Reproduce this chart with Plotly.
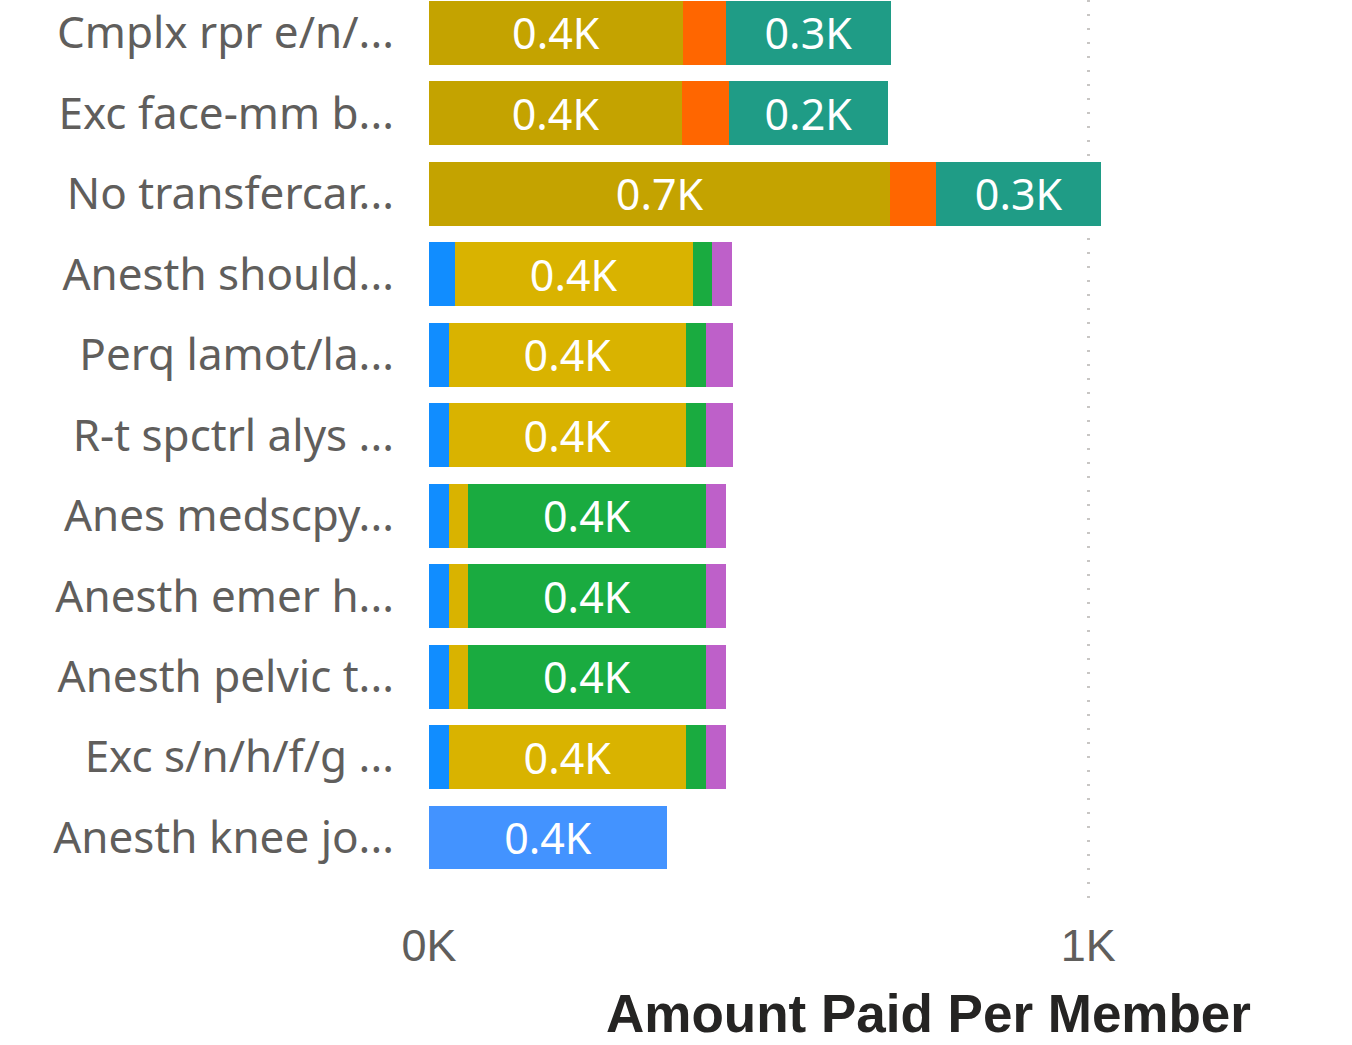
import plotly.graph_objects as go

categories = [
    "Cmplx rpr e/n/...", "Exc face-mm b...", "No transfercar...", "Anesth should...",
    "Perq lamot/la...", "R-t spctrl alys ...", "Anes medscpy...", "Anesth emer h...",
    "Anesth pelvic t...", "Exc s/n/h/f/g ...", "Anesth knee jo...",
]

# Amount Paid Per Member (dollars), by series
blue   = [0, 0, 0, 39, 30, 30, 30, 30, 30, 30, 361]
olive  = [385, 384, 700, 0, 0, 0, 0, 0, 0, 0, 0]
orange = [65, 71, 69, 0, 0, 0, 0, 0, 0, 0, 0]
teal   = [251, 241, 251, 0, 0, 0, 0, 0, 0, 0, 0]
yellow = [0, 0, 0, 361, 360, 360, 29, 29, 29, 360, 0]
green  = [0, 0, 0, 29, 30, 30, 361, 361, 361, 30, 0]
purple = [0, 0, 0, 30, 41, 41, 30, 30, 30, 30, 0]

tick_vals = [0, 1000]
tick_text = ["0K", "1K"]

LABEL_MIN = 200  # segments wide enough to carry a data label

def labels(vals):
    return [f"{v/1000:.1f}K" if v >= LABEL_MIN else "" for v in vals]

blue_colors = ["#118DFF"] * 10 + ["#4393FF"]

series = [
    ("Blue", blue, blue_colors),
    ("Olive", olive, "#C4A300"),
    ("Yellow", yellow, "#D9B300"),
    ("Green", green, "#1AAB40"),
    ("Orange", orange, "#FF6600"),
    ("Teal", teal, "#1F9C86"),
    ("Purple", purple, "#BE60C9"),
]

fig = go.Figure()
for name, vals, col in series:
    fig.add_trace(go.Bar(
        name=name, y=categories, x=vals, orientation="h",
        marker=dict(color=col, line=dict(width=0)),
        text=labels(vals), textposition="inside", insidetextanchor="middle",
        textangle=0, constraintext="none",
        textfont=dict(family="Segoe UI, Noto Sans, sans-serif", size=43, color="white"),
        hoverinfo="skip",
    ))

fig.update_layout(
    barmode="stack", bargap=0.205, showlegend=False,
    width=1352, height=1045,
    margin=dict(l=429, r=12, t=0, b=142),
    paper_bgcolor="white", plot_bgcolor="white",
)
fig.update_xaxes(
    range=[0, 1382], tickvals=tick_vals, ticktext=tick_text,
    showgrid=True, gridcolor="#C8C6C4", gridwidth=3, griddash="2px,12px",
    zeroline=False, showline=False, ticks="", automargin=False,
    tickfont=dict(family="Liberation Sans, sans-serif", size=45, color="#605E5C"),
    ticklabelstandoff=12,
)
fig.update_yaxes(
    categoryorder="array", categoryarray=categories,
    range=[10.814, -0.410], showgrid=False, zeroline=False, showline=False, ticks="",
    automargin=False,
    tickfont=dict(family="Segoe UI, Noto Sans, sans-serif", size=44, color="#605E5C"),
    ticklabelstandoff=34,
)
fig.add_annotation(
    text="Amount Paid Per Member", xref="paper", yref="paper",
    x=0.548, y=-0.1573, xanchor="center", yanchor="bottom",
    showarrow=False,
    font=dict(family="Liberation Sans, sans-serif", size=53, color="#252423", weight="bold"),
)

fig.write_html(
    "out.html",
    config={"displayModeBar": False},
    post_script="document.body.style.margin='0';",
)
